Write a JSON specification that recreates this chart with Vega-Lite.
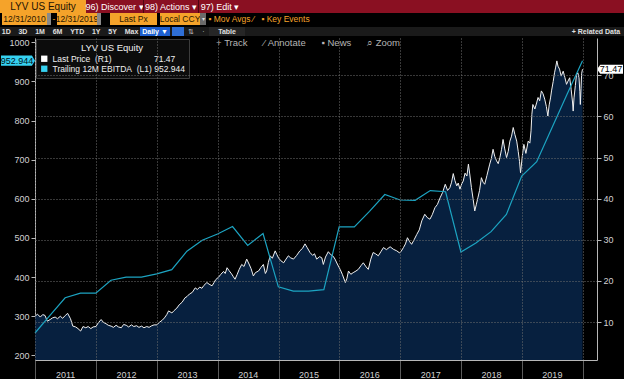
{
"$schema": "https://vega.github.io/schema/vega-lite/v6.json",
"background": "#000000",
"padding": 0,
"config": {
  "view": {"stroke": null},
  "font": "Liberation Sans Narrow, Liberation Sans, sans-serif",
  "axis": {"labelFont": "Liberation Sans Narrow, Liberation Sans, sans-serif", "labelFontSize": 9, "labelColor": "#d2d2d2", "domainColor": "#b8b8b8", "tickColor": "#b8b8b8"},
  "legend": {"orient": "top-left", "offset": 1, "fillColor": "#0c0c0c", "strokeColor": "#3c3c3c", "padding": 4, "cornerRadius": 0, "titleFont": "Liberation Sans Narrow, Liberation Sans, sans-serif", "titleFontSize": 9.5, "titleFontWeight": "normal", "titleColor": "#f0f0f0", "titleAnchor": "middle", "titlePadding": 2, "labelFont": "Liberation Sans Narrow, Liberation Sans, sans-serif", "labelFontSize": 8.5, "labelColor": "#f0f0f0", "symbolType": "square", "symbolSize": 40, "symbolStrokeWidth": 0, "rowPadding": 1, "labelOffset": 4, "labelLimit": 300}
},
"datasets": {
  "price": [
    {"d":"2010-12-31","p":11.4},{"d":"2011-01-15","p":11.9},{"d":"2011-02-01","p":11.2},{"d":"2011-02-15","p":11.8},{"d":"2011-03-01","p":11.6},{"d":"2011-03-15","p":10.2},{"d":"2011-04-01","p":10.6},{"d":"2011-04-15","p":11.0},{"d":"2011-05-01","p":11.2},{"d":"2011-05-15","p":10.8},{"d":"2011-06-01","p":11.4},{"d":"2011-06-15","p":10.9},{"d":"2011-07-01","p":11.6},{"d":"2011-07-15","p":12.1},{"d":"2011-08-01","p":10.8},{"d":"2011-08-15","p":9.0},{"d":"2011-09-01","p":8.8},{"d":"2011-09-15","p":8.4},{"d":"2011-10-01","p":7.8},{"d":"2011-10-15","p":8.9},{"d":"2011-11-01","p":8.6},{"d":"2011-11-15","p":8.9},{"d":"2011-12-01","p":8.4},{"d":"2011-12-15","p":8.8},
    {"d":"2012-01-01","p":8.9},{"d":"2012-01-15","p":9.8},{"d":"2012-02-01","p":10.6},{"d":"2012-02-15","p":9.9},{"d":"2012-03-01","p":9.6},{"d":"2012-03-15","p":9.2},{"d":"2012-04-01","p":9.0},{"d":"2012-04-15","p":8.7},{"d":"2012-05-01","p":9.2},{"d":"2012-05-15","p":8.8},{"d":"2012-06-01","p":8.6},{"d":"2012-06-15","p":9.4},{"d":"2012-07-01","p":9.2},{"d":"2012-07-15","p":8.8},{"d":"2012-08-01","p":9.3},{"d":"2012-08-15","p":8.9},{"d":"2012-09-01","p":9.1},{"d":"2012-09-15","p":8.7},{"d":"2012-10-01","p":9.0},{"d":"2012-10-15","p":8.6},{"d":"2012-11-01","p":8.9},{"d":"2012-11-15","p":8.7},{"d":"2012-12-01","p":9.1},{"d":"2012-12-15","p":9.3},
    {"d":"2013-01-01","p":9.3},{"d":"2013-01-15","p":9.9},{"d":"2013-02-01","p":10.4},{"d":"2013-02-15","p":11.0},{"d":"2013-03-01","p":11.8},{"d":"2013-03-12","p":12.7},{"d":"2013-04-01","p":12.2},{"d":"2013-04-12","p":12.7},{"d":"2013-05-01","p":13.4},{"d":"2013-05-15","p":14.2},{"d":"2013-06-01","p":14.8},{"d":"2013-06-19","p":15.9},{"d":"2013-07-01","p":16.2},{"d":"2013-07-15","p":16.8},{"d":"2013-08-01","p":17.2},{"d":"2013-08-19","p":18.3},{"d":"2013-09-01","p":17.9},{"d":"2013-09-15","p":18.5},{"d":"2013-09-28","p":18.2},{"d":"2013-10-10","p":18.9},{"d":"2013-10-28","p":19.6},{"d":"2013-11-10","p":19.2},{"d":"2013-11-28","p":18.8},{"d":"2013-12-10","p":19.6},{"d":"2013-12-20","p":20.3},
    {"d":"2014-01-06","p":20.9},{"d":"2014-01-20","p":21.6},{"d":"2014-02-05","p":22.3},{"d":"2014-02-15","p":21.8},{"d":"2014-02-26","p":23.2},{"d":"2014-03-10","p":22.5},{"d":"2014-03-25","p":21.7},{"d":"2014-04-05","p":21.0},{"d":"2014-04-15","p":20.4},{"d":"2014-04-28","p":21.6},{"d":"2014-05-10","p":22.8},{"d":"2014-05-25","p":24.0},{"d":"2014-06-08","p":23.5},{"d":"2014-06-24","p":25.3},{"d":"2014-07-08","p":24.1},{"d":"2014-07-20","p":23.0},{"d":"2014-08-03","p":21.2},{"d":"2014-08-15","p":22.0},{"d":"2014-09-03","p":22.4},{"d":"2014-09-18","p":23.3},{"d":"2014-10-02","p":24.0},{"d":"2014-10-14","p":21.8},{"d":"2014-10-22","p":22.4},{"d":"2014-11-01","p":24.5},{"d":"2014-11-12","p":26.1},{"d":"2014-11-25","p":25.5},{"d":"2014-12-12","p":27.3},{"d":"2014-12-22","p":26.4},
    {"d":"2015-01-01","p":25.6},{"d":"2015-01-15","p":24.9},{"d":"2015-02-01","p":24.4},{"d":"2015-02-15","p":25.3},{"d":"2015-03-01","p":26.1},{"d":"2015-03-15","p":25.6},{"d":"2015-04-01","p":25.3},{"d":"2015-04-20","p":26.2},{"d":"2015-05-09","p":27.3},{"d":"2015-05-25","p":27.9},{"d":"2015-06-09","p":29.0},{"d":"2015-06-22","p":28.1},{"d":"2015-07-09","p":26.9},{"d":"2015-07-25","p":26.2},{"d":"2015-08-05","p":26.6},{"d":"2015-08-18","p":25.3},{"d":"2015-09-05","p":25.9},{"d":"2015-09-18","p":25.6},{"d":"2015-09-27","p":24.0},{"d":"2015-10-10","p":25.8},{"d":"2015-10-27","p":27.1},{"d":"2015-11-10","p":26.4},{"d":"2015-11-25","p":26.0},{"d":"2015-12-06","p":25.3},{"d":"2015-12-20","p":24.1},
    {"d":"2016-01-06","p":22.8},{"d":"2016-01-20","p":21.5},{"d":"2016-02-06","p":19.6},{"d":"2016-02-15","p":20.5},{"d":"2016-02-25","p":22.4},{"d":"2016-03-10","p":21.6},{"d":"2016-03-24","p":22.0},{"d":"2016-04-10","p":22.4},{"d":"2016-04-24","p":22.8},{"d":"2016-05-10","p":23.7},{"d":"2016-05-24","p":24.4},{"d":"2016-06-10","p":23.4},{"d":"2016-06-23","p":22.8},{"d":"2016-07-08","p":25.3},{"d":"2016-07-22","p":26.9},{"d":"2016-08-05","p":26.6},{"d":"2016-08-22","p":26.1},{"d":"2016-09-08","p":27.2},{"d":"2016-09-22","p":28.1},{"d":"2016-10-10","p":27.6},{"d":"2016-11-01","p":28.3},{"d":"2016-11-20","p":27.7},{"d":"2016-12-11","p":27.3},{"d":"2016-12-28","p":26.8},
    {"d":"2017-01-06","p":27.2},{"d":"2017-01-20","p":28.1},{"d":"2017-02-01","p":29.0},{"d":"2017-02-13","p":30.5},{"d":"2017-02-25","p":29.6},{"d":"2017-03-10","p":28.9},{"d":"2017-03-25","p":30.0},{"d":"2017-04-10","p":31.3},{"d":"2017-04-25","p":32.4},{"d":"2017-05-10","p":34.6},{"d":"2017-05-28","p":36.2},{"d":"2017-06-12","p":35.4},{"d":"2017-06-28","p":35.0},{"d":"2017-07-12","p":36.1},{"d":"2017-07-28","p":37.8},{"d":"2017-08-12","p":38.6},{"d":"2017-08-28","p":40.2},{"d":"2017-09-12","p":41.5},{"d":"2017-09-28","p":43.5},{"d":"2017-10-12","p":42.0},{"d":"2017-10-26","p":42.7},{"d":"2017-11-05","p":44.0},{"d":"2017-11-15","p":46.1},{"d":"2017-11-25","p":44.4},{"d":"2017-12-06","p":43.1},{"d":"2017-12-15","p":43.8},{"d":"2017-12-25","p":42.3},
    {"d":"2018-01-05","p":43.6},{"d":"2018-01-14","p":44.3},{"d":"2018-01-25","p":46.2},{"d":"2018-02-05","p":45.5},{"d":"2018-02-14","p":48.4},{"d":"2018-02-22","p":46.0},{"d":"2018-03-04","p":42.7},{"d":"2018-03-14","p":40.0},{"d":"2018-03-24","p":37.0},{"d":"2018-04-02","p":38.5},{"d":"2018-04-12","p":40.2},{"d":"2018-04-22","p":42.0},{"d":"2018-05-03","p":45.1},{"d":"2018-05-13","p":44.0},{"d":"2018-05-23","p":43.5},{"d":"2018-06-05","p":45.6},{"d":"2018-06-22","p":48.4},{"d":"2018-07-02","p":49.8},{"d":"2018-07-12","p":52.0},{"d":"2018-07-22","p":50.3},{"d":"2018-08-02","p":49.2},{"d":"2018-08-12","p":48.5},{"d":"2018-08-22","p":50.0},{"d":"2018-09-01","p":52.0},{"d":"2018-09-10","p":54.4},{"d":"2018-09-20","p":52.1},{"d":"2018-10-01","p":50.0},{"d":"2018-10-11","p":51.5},{"d":"2018-10-21","p":54.0},{"d":"2018-10-31","p":55.2},{"d":"2018-11-10","p":57.3},{"d":"2018-11-20","p":55.6},{"d":"2018-12-01","p":54.0},{"d":"2018-12-10","p":51.5},{"d":"2018-12-18","p":49.0},{"d":"2018-12-24","p":46.3},
    {"d":"2019-01-04","p":50.5},{"d":"2019-01-13","p":53.2},{"d":"2019-01-25","p":51.0},{"d":"2019-02-08","p":54.0},{"d":"2019-02-18","p":53.5},{"d":"2019-02-25","p":56.5},{"d":"2019-03-02","p":60.5},{"d":"2019-03-08","p":62.9},{"d":"2019-03-20","p":61.8},{"d":"2019-04-01","p":63.5},{"d":"2019-04-08","p":64.6},{"d":"2019-04-18","p":63.8},{"d":"2019-04-28","p":66.2},{"d":"2019-05-08","p":65.5},{"d":"2019-05-18","p":64.2},{"d":"2019-05-28","p":62.4},{"d":"2019-06-06","p":60.1},{"d":"2019-06-14","p":62.8},{"d":"2019-06-22","p":64.5},{"d":"2019-06-28","p":66.2},{"d":"2019-07-08","p":68.5},{"d":"2019-07-16","p":70.6},{"d":"2019-07-23","p":72.0},{"d":"2019-07-30","p":73.5},{"d":"2019-08-06","p":72.2},{"d":"2019-08-15","p":71.5},{"d":"2019-08-25","p":69.8},{"d":"2019-09-06","p":71.0},{"d":"2019-09-16","p":69.5},{"d":"2019-09-26","p":67.8},{"d":"2019-10-05","p":68.6},{"d":"2019-10-15","p":69.4},{"d":"2019-10-24","p":66.5},{"d":"2019-11-01","p":63.5},{"d":"2019-11-05","p":61.3},{"d":"2019-11-10","p":64.5},{"d":"2019-11-18","p":67.5},{"d":"2019-11-25","p":70.2},{"d":"2019-12-03","p":70.6},{"d":"2019-12-10","p":69.4},{"d":"2019-12-15","p":66.0},{"d":"2019-12-18","p":62.9},{"d":"2019-12-22","p":66.8},{"d":"2019-12-26","p":70.5},{"d":"2019-12-31","p":71.47}
  ],
  "ebitda": [
    {"d":"2010-12-31","e":257},{"d":"2011-03-31","e":302},{"d":"2011-06-30","e":347},{"d":"2011-09-30","e":359},{"d":"2011-12-31","e":359},
    {"d":"2012-03-31","e":392},{"d":"2012-06-30","e":400},{"d":"2012-09-30","e":400},{"d":"2012-12-31","e":408},
    {"d":"2013-03-31","e":419},{"d":"2013-06-30","e":466},{"d":"2013-09-30","e":494},{"d":"2013-12-31","e":510},
    {"d":"2014-03-31","e":529},{"d":"2014-06-30","e":481},{"d":"2014-09-30","e":511},{"d":"2014-12-31","e":375},
    {"d":"2015-03-31","e":364},{"d":"2015-06-30","e":364},{"d":"2015-09-30","e":368},{"d":"2015-12-31","e":528},
    {"d":"2016-03-31","e":528},{"d":"2016-06-30","e":568},{"d":"2016-09-30","e":611},{"d":"2016-12-31","e":597},
    {"d":"2017-03-31","e":596},{"d":"2017-06-30","e":621},{"d":"2017-09-30","e":618},{"d":"2017-12-31","e":464},
    {"d":"2018-03-31","e":487},{"d":"2018-06-30","e":516},{"d":"2018-09-30","e":560},{"d":"2018-12-31","e":658},
    {"d":"2019-03-31","e":695},{"d":"2019-06-30","e":781},{"d":"2019-09-30","e":868},{"d":"2019-12-31","e":952.944}
  ],
  "tags": [
    {"d":"2010-12-31","v":952.944,"label":"952.944","series":"Trailing 12M EBITDA (L1)"},
    {"d":"2019-12-31","v":71.47,"label":"71.47","series":"Last Price (R1)"}
  ]
},
"concat": [
  {"hconcat": [
    {"width":86,"height":13,"view":{"fill":"#f5a32a","stroke":null},"data":{"values":[{"t":"LYV US Equity"}]},"mark":{"type":"text","color":"#1e1404","fontSize":10},"encoding":{"text":{"field":"t"}}},
    {"width":57,"height":13,"view":{"fill":"#8a1022","stroke":null},"data":{"values":[{"t":"96) Discover ▾"}]},"mark":{"type":"text","color":"#ffffff","fontSize":9},"encoding":{"text":{"field":"t"}}},
    {"width":1,"height":13,"view":{"fill":"#4e0510","stroke":null},"data":{"values":[{"t":""}]},"mark":{"type":"text"},"encoding":{"text":{"field":"t"}}},
    {"width":54,"height":13,"view":{"fill":"#8a1022","stroke":null},"data":{"values":[{"t":"98) Actions ▾"}]},"mark":{"type":"text","color":"#ffffff","fontSize":9},"encoding":{"text":{"field":"t"}}},
    {"width":1,"height":13,"view":{"fill":"#4e0510","stroke":null},"data":{"values":[{"t":""}]},"mark":{"type":"text"},"encoding":{"text":{"field":"t"}}},
    {"width":42,"height":13,"view":{"fill":"#8a1022","stroke":null},"data":{"values":[{"t":"97) Edit ▾"}]},"mark":{"type":"text","color":"#ffffff","fontSize":9},"encoding":{"text":{"field":"t"}}},
    {"width":383,"height":13,"view":{"fill":"#8a1022","stroke":null},"data":{"values":[{"t":""}]},"mark":{"type":"text"},"encoding":{"text":{"field":"t"}}}
  ], "spacing": 0, "bounds": "flush"},
  {"hconcat": [
    {"width":2,"height":12,"view":{"fill":"#000000","stroke":null},"data":{"values":[{"t":""}]},"mark":{"type":"text"},"encoding":{"text":{"field":"t"}}},
    {"width":45,"height":12,"view":{"fill":"#f5a32a","stroke":null},"data":{"values":[{"t":"12/31/2010"}]},"mark":{"type":"text","color":"#2a1800","fontSize":8.5},"encoding":{"text":{"field":"t"}}},
    {"width":4,"height":12,"view":{"fill":"#8a8a8a","stroke":null},"data":{"values":[{"t":""}]},"mark":{"type":"text"},"encoding":{"text":{"field":"t"}}},
    {"width":6,"height":12,"view":{"fill":"#000000","stroke":null},"data":{"values":[{"t":"-"}]},"mark":{"type":"text","color":"#f5a32a","fontSize":8.5},"encoding":{"text":{"field":"t"}}},
    {"width":40,"height":12,"view":{"fill":"#f5a32a","stroke":null},"data":{"values":[{"t":"12/31/2019"}]},"mark":{"type":"text","color":"#2a1800","fontSize":8.5},"encoding":{"text":{"field":"t"}}},
    {"width":4,"height":12,"view":{"fill":"#8a8a8a","stroke":null},"data":{"values":[{"t":""}]},"mark":{"type":"text"},"encoding":{"text":{"field":"t"}}},
    {"width":9,"height":12,"view":{"fill":"#000000","stroke":null},"data":{"values":[{"t":""}]},"mark":{"type":"text"},"encoding":{"text":{"field":"t"}}},
    {"width":47,"height":12,"view":{"fill":"#f5a32a","stroke":null},"data":{"values":[{"t":"Last Px"}]},"mark":{"type":"text","color":"#2a1800","fontSize":8.5},"encoding":{"text":{"field":"t"}}},
    {"width":3,"height":12,"view":{"fill":"#000000","stroke":null},"data":{"values":[{"t":""}]},"mark":{"type":"text"},"encoding":{"text":{"field":"t"}}},
    {"width":40,"height":12,"view":{"fill":"#f5a32a","stroke":null},"data":{"values":[{"t":"Local CCY"}]},"mark":{"type":"text","color":"#2a1800","fontSize":8.5},"encoding":{"text":{"field":"t"}}},
    {"width":6,"height":12,"view":{"fill":"#6a6a6a","stroke":null},"data":{"values":[{"t":"▾"}]},"mark":{"type":"text","color":"#dddddd","fontSize":6},"encoding":{"text":{"field":"t"}}},
    {"width":106,"height":12,"view":{"fill":"#000000","stroke":null},"data":{"values":[{"t":"▪ Mov Avgs ⁄\u00a0\u00a0 ▪ Key Events"}]},"mark":{"type":"text","color":"#f5a32a","fontSize":8.5},"encoding":{"text":{"field":"t"}}},
    {"width":312,"height":12,"view":{"fill":"#000000","stroke":null},"data":{"values":[{"t":""}]},"mark":{"type":"text"},"encoding":{"text":{"field":"t"}}}
  ], "spacing": 0, "bounds": "flush"},
  {"hconcat": [
    {"width":140,"height":9,"view":{"fill":"#1a1a1a","stroke":null},"data":{"values":[{"t":"1D\u00a0\u00a0\u00a0\u00a03D\u00a0\u00a0\u00a0\u00a01M\u00a0\u00a0\u00a0\u00a06M\u00a0\u00a0\u00a0\u00a0YTD\u00a0\u00a0\u00a0\u00a01Y\u00a0\u00a0\u00a0\u00a05Y\u00a0\u00a0\u00a0\u00a0Max"}]},"mark":{"type":"text","color":"#e0e0e0","fontSize":7,"fontWeight":"bold"},"encoding":{"text":{"field":"t"}}},
    {"width":30,"height":9,"view":{"fill":"#1e5fcf","stroke":null},"data":{"values":[{"t":"Daily ▼"}]},"mark":{"type":"text","color":"#ffffff","fontSize":7,"fontWeight":"bold"},"encoding":{"text":{"field":"t"}}},
    {"width":2,"height":9,"view":{"fill":"#1a1a1a","stroke":null},"data":{"values":[{"t":""}]},"mark":{"type":"text"},"encoding":{"text":{"field":"t"}}},
    {"width":12,"height":9,"view":{"fill":"#2f6fd6","stroke":null},"data":{"values":[{"t":""}]},"mark":{"type":"text"},"encoding":{"text":{"field":"t"}}},
    {"width":25,"height":9,"view":{"fill":"#1a1a1a","stroke":null},"data":{"values":[{"t":"⇅\u00a0\u00a0\u00a0\u00a0·"}]},"mark":{"type":"text","color":"#cccccc","fontSize":7},"encoding":{"text":{"field":"t"}}},
    {"width":36,"height":9,"view":{"fill":"#262626","stroke":null},"data":{"values":[{"t":"Table"}]},"mark":{"type":"text","color":"#e0e0e0","fontSize":7,"fontWeight":"bold"},"encoding":{"text":{"field":"t"}}},
    {"width":323,"height":9,"view":{"fill":"#1a1a1a","stroke":null},"data":{"values":[{"t":""}]},"mark":{"type":"text"},"encoding":{"text":{"field":"t"}}},
    {"width":56,"height":9,"view":{"fill":"#1a1a1a","stroke":null},"data":{"values":[{"t":"+ Related Data"}]},"mark":{"type":"text","color":"#e0e0e0","fontSize":7,"fontWeight":"bold"},"encoding":{"text":{"field":"t"}}}
  ], "spacing": 0, "bounds": "flush"},
  {"hconcat": [
    {"width":35,"height":322,"view":{"fill":"#000000","stroke":null},"data":{"values":[{"t":""}]},"mark":{"type":"text"},"encoding":{"text":{"field":"t"}}},
    {
    "width": 562,
    "height": 322,
    "title": {"text": "+\u00a0Track\u00a0\u00a0\u00a0\u00a0\u00a0\u00a0⁄\u00a0Annotate\u00a0\u00a0\u00a0\u00a0\u00a0\u00a0▪\u00a0News\u00a0\u00a0\u00a0\u00a0\u00a0\u00a0⌕\u00a0Zoom", "orient": "top", "anchor": "middle", "frame": "group", "offset": -9, "dx": -8, "fontSize": 9.5, "fontWeight": "normal", "color": "#b5b5b5"},
    "layer": [
      {"layer": [
        {"data": {"name": "price"},
         "mark": {"type": "area", "color": "#07203f"},
         "encoding": {
           "x": {"field": "d", "type": "temporal",
                 "scale": {"domain": [{"year":2010,"month":12,"date":31},{"year":2020,"month":3,"date":27}], "nice": false},
                 "axis": {"title": null, "values": [{"year":2011,"month":1,"date":1},{"year":2012,"month":1,"date":1},{"year":2013,"month":1,"date":1},{"year":2014,"month":1,"date":1},{"year":2015,"month":1,"date":1},{"year":2016,"month":1,"date":1},{"year":2017,"month":1,"date":1},{"year":2018,"month":1,"date":1},{"year":2019,"month":1,"date":1},{"year":2020,"month":1,"date":1}],
                          "format": "%Y", "labelExpr": "year(datum.value) >= 2020 ? '' : datum.label",
                          "labelOffset": 30, "labelPadding": -10, "tickSize": 20, "tickColor": "#5c5c5c",
                          "grid": true, "gridColor": "#707070", "gridDash": [1,2], "zindex": 1,
                          "labelFlush": false, "labelOverlap": false, "labelBound": false}},
           "y": {"field": "p", "type": "quantitative",
                 "scale": {"domain": [0.76, 79.07], "nice": false, "zero": false},
                 "axis": {"title": null, "orient": "right", "values": [10,20,30,40,50,60,70],
                          "tickSize": 4, "labelPadding": 2, "grid": true, "gridColor": "#707070", "gridDash": [1,2],
                          "zindex": 1, "format": "d", "labelOverlap": false}},
           "y2": {"datum": 0.76}
         }},
        {"data": {"name": "price"},
         "mark": {"type": "line", "color": "#f0f0f0", "strokeWidth": 1},
         "encoding": {
           "x": {"field": "d", "type": "temporal"},
           "y": {"field": "p", "type": "quantitative"}
         }},
        {"data": {"name": "tags"},
         "transform": [{"filter": "datum.series == 'Last Price (R1)'"}],
         "mark": {"type": "point", "shape": "M-1,0L-0.75,-0.34L1,-0.34L1,0.34L-0.75,0.34Z", "size": 676, "filled": true, "opacity": 1, "strokeWidth": 0, "xOffset": 27.5},
         "encoding": {
           "x": {"field": "d", "type": "temporal"},
           "y": {"field": "v", "type": "quantitative"},
           "color": {"field": "series", "type": "nominal",
                     "scale": {"domain": ["Last Price (R1)", "Trailing 12M EBITDA (L1)"], "range": ["#ffffff", "#36d1f0"]},
                     "legend": {"title": "LYV US Equity", "labelExpr": "datum.label == 'Last Price (R1)' ? 'Last\u00a0Price\u00a0\u00a0(R1)\u00a0\u00a0\u00a0\u00a0\u00a0\u00a0\u00a0\u00a0\u00a0\u00a0\u00a0\u00a0\u00a0\u00a0\u00a0\u00a0\u00a0\u00a071.47' : 'Trailing\u00a012M\u00a0EBITDA\u00a0\u00a0(L1)\u00a0952.944'"}}
         }},
        {"data": {"name": "tags"},
         "transform": [{"filter": "datum.series == 'Last Price (R1)'"}],
         "mark": {"type": "text", "dx": 28.5, "color": "#000000", "fontSize": 9},
         "encoding": {
           "x": {"field": "d", "type": "temporal"},
           "y": {"field": "v", "type": "quantitative"},
           "text": {"field": "label"}
         }}
      ]},
      {"layer": [
        {"data": {"name": "ebitda"},
         "mark": {"type": "line", "color": "#1ca4c2", "strokeWidth": 1.2},
         "encoding": {
           "x": {"field": "d", "type": "temporal"},
           "y": {"field": "e", "type": "quantitative",
                 "scale": {"domain": [188, 1011], "nice": false, "zero": false},
                 "axis": {"title": null, "orient": "left", "values": [200,250,300,350,400,450,500,550,600,650,700,750,800,850,900,950,1000],
                          "labelExpr": "datum.value % 100 === 0 ? datum.label : ''",
                          "tickSize": {"condition": {"test": "datum.value % 100 === 0", "value": 4}, "value": 2},
                          "labelPadding": 2, "grid": false, "format": "d", "labelOverlap": false}}
         }},
        {"data": {"name": "tags"},
         "transform": [{"filter": "datum.series == 'Trailing 12M EBITDA (L1)'"}],
         "mark": {"type": "point", "shape": "M-1,-0.3L0.82,-0.3L1,0L0.82,0.3L-1,0.3Z", "size": 1156, "filled": true, "opacity": 1, "strokeWidth": 0, "xOffset": -17},
         "encoding": {
           "x": {"field": "d", "type": "temporal"},
           "y": {"field": "v", "type": "quantitative"},
           "color": {"field": "series", "type": "nominal",
                     "scale": {"domain": ["Last Price (R1)", "Trailing 12M EBITDA (L1)"], "range": ["#ffffff", "#36d1f0"]},
                     "legend": {"title": "LYV US Equity", "labelExpr": "datum.label == 'Last Price (R1)' ? 'Last\u00a0Price\u00a0\u00a0(R1)\u00a0\u00a0\u00a0\u00a0\u00a0\u00a0\u00a0\u00a0\u00a0\u00a0\u00a0\u00a0\u00a0\u00a0\u00a0\u00a0\u00a0\u00a071.47' : 'Trailing\u00a012M\u00a0EBITDA\u00a0\u00a0(L1)\u00a0952.944'"}}
         }},
        {"data": {"name": "tags"},
         "transform": [{"filter": "datum.series == 'Trailing 12M EBITDA (L1)'"}],
         "mark": {"type": "text", "dx": -18, "color": "#001018", "fontSize": 9},
         "encoding": {
           "x": {"field": "d", "type": "temporal"},
           "y": {"field": "v", "type": "quantitative"},
           "text": {"field": "label"}
         }}
      ]}
    ],
    "resolve": {"scale": {"y": "independent"}}
    }
  ], "spacing": 0, "bounds": "flush", "resolve": {"scale": {"color": "independent"}}}
],
"columns": 1,
"align": "none",
"spacing": 0,
"resolve": {"scale": {"color": "independent"}}
}
